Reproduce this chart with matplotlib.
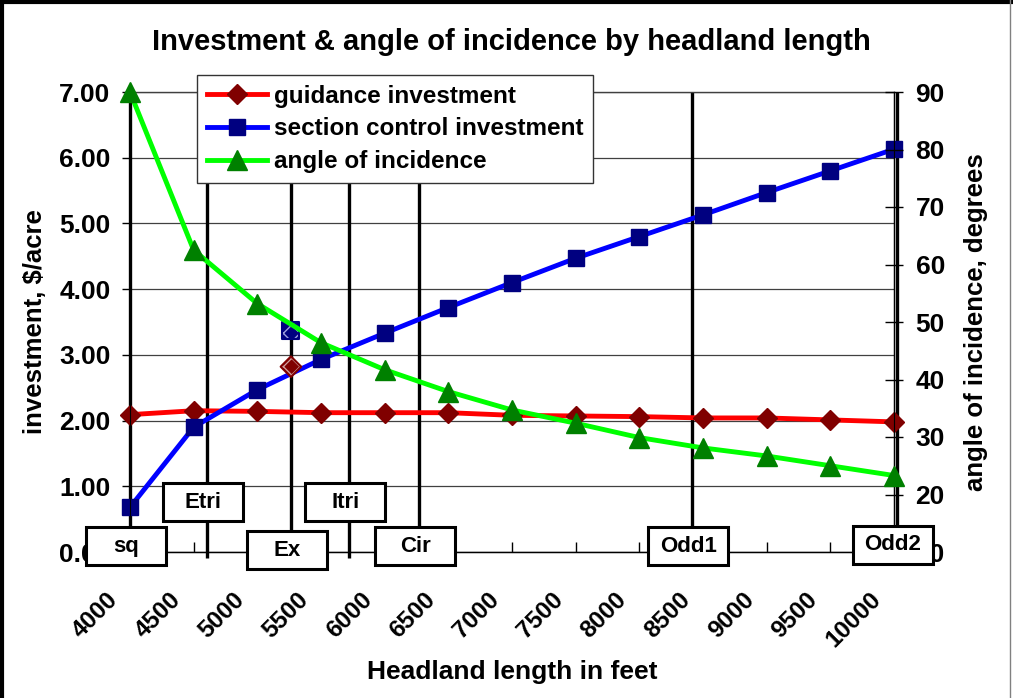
import matplotlib.pyplot as plt
import matplotlib.transforms as mtransforms
from matplotlib.lines import Line2D
from matplotlib.patches import Rectangle

plt.rcParams['font.family'] = ['Liberation Sans', 'DejaVu Sans']
plt.rcParams['font.weight'] = 'bold'
plt.rcParams['axes.labelweight'] = 'bold'

# datos
headland = [4000, 4500, 5000, 5500, 6000, 6500, 7000, 7500, 8000, 8500, 9000, 9500, 10000]
guidance = [2.09, 2.15, 2.14, 2.12, 2.12, 2.12, 2.08, 2.07, 2.06, 2.04, 2.04, 2.01, 1.98]
section = [0.68, 1.90, 2.47, 2.93, 3.33, 3.72, 4.10, 4.47, 4.80, 5.13, 5.47, 5.80, 6.13]
angle = [90, 62.5, 53.2, 46.4, 41.7, 37.9, 34.7, 32.4, 29.9, 28.1, 26.7, 25.0, 23.3]

# formas de campo (lineas verticales)
shape_names = ['sq', 'Etri', 'Ex', 'Itri', 'Cir', 'Odd1', 'Odd2']
shape_lengths = [4000, 4605, 5264, 5720, 6270, 8413, 10020]
ex_length = 5264
ex_guidance = 2.82
ex_section = 3.37

fig = plt.figure(figsize=(10.13, 6.98), dpi=100)
ax = fig.add_axes([130 / 1013, 1 - 552 / 698, 764 / 1013, 460 / 698])
ax2 = ax.twinx()

# lineas verticales de cada forma
ax.vlines(shape_lengths, -0.09, 7, colors='black', lw=2.4, zorder=2, clip_on=False)

ax.plot(headland, guidance, color='#ff0000', lw=3.5, marker='D', ms=10,
        mfc='#800000', mec='#800000', zorder=4, clip_on=False)
ax.plot(headland, section, color='#0000ff', lw=3.5, marker='s', ms=12,
        mfc='#000080', mec='#000080', zorder=4, clip_on=False)
ax2.plot(headland, angle, color='#00ff00', lw=3.5, marker='^', ms=14,
         mfc='#008000', mec='#008000', zorder=4, clip_on=False)

# puntos especiales (Ex) con relleno de trama
ax.scatter([ex_length], [ex_section], marker='s', s=150, facecolor='#000080',
           edgecolor='#a0a0e0', hatch='xx', lw=0, zorder=5)
ax.scatter([ex_length], [ex_section], marker='s', s=150, facecolor='none',
           edgecolor='#000080', lw=1.5, zorder=6)
ax.scatter([ex_length], [ex_guidance], marker='D', s=110, facecolor='#800000',
           edgecolor='#d0a0a0', hatch='xx', lw=0, zorder=5)
ax.scatter([ex_length], [ex_guidance], marker='D', s=110, facecolor='none',
           edgecolor='#800000', lw=1.5, zorder=6)

ax.set_xlim(4000, 10000)
ax.set_ylim(0, 7)
ax2.set_ylim(10, 90)
ax.set_xticks(headland)
ax.set_xticklabels([str(h) for h in headland], rotation=45, ha='right', va='top')
ax.set_yticks(range(8))
ax.set_yticklabels(['%.2f' % v for v in range(8)])
ax2.set_yticks(range(10, 100, 10))

ax.tick_params(axis='x', direction='in', length=7, width=1, pad=26, labelsize=17.5)
ax.tick_params(axis='y', direction='out', length=6, width=1, pad=8, labelsize=19)
ax2.tick_params(axis='y', direction='inout', length=13, width=1, pad=9, labelsize=19)

offset = mtransforms.ScaledTranslation(-8 / 100, 0, fig.dpi_scale_trans)
for lbl in ax.get_xticklabels():
    lbl.set_transform(lbl.get_transform() + offset)

ax.yaxis.grid(True, color='#404040', lw=0.9)
ax.set_axisbelow(True)
for s in ax.spines.values():
    s.set_linewidth(1)
ax.spines['top'].set_color('#404040')
ax2.spines['top'].set_visible(False)

ax.set_ylabel('investment, $/acre', fontsize=18.5, labelpad=9)
ax2.set_ylabel('angle of incidence, degrees', fontsize=18.5, labelpad=14)
ax.set_xlabel('Headland length in feet', fontsize=19)
ax.xaxis.set_label_coords(0.5, -0.235)

# cajas con el nombre de cada forma
box_y = {'sq': 0.09, 'Etri': 0.76, 'Ex': 0.03, 'Itri': 0.76, 'Cir': 0.09, 'Odd1': 0.09, 'Odd2': 0.11}
bw = 80 * 6000 / 764
bh = 38 * 7 / 460
for name, x in zip(shape_names, shape_lengths):
    yc = box_y[name]
    ax2.add_patch(Rectangle((x - bw / 2 - 30, yc - bh / 2), bw, bh, transform=ax.transData,
                            facecolor='white', edgecolor='black', lw=2.2, zorder=10, clip_on=False))
    ax2.text(x - 30, yc, name, transform=ax.transData, ha='center', va='center',
             fontsize=16, zorder=11)

handles = [
    Line2D([], [], color='#ff0000', lw=3.5, marker='D', ms=10, mfc='#800000', mec='#800000'),
    Line2D([], [], color='#0000ff', lw=3.5, marker='s', ms=12, mfc='#000080', mec='#000080'),
    Line2D([], [], color='#00ff00', lw=3.5, marker='^', ms=14, mfc='#008000', mec='#008000'),
]
labels = ['guidance investment', 'section control investment', 'angle of incidence']
leg = ax2.legend(handles, labels, loc='upper left', bbox_to_anchor=(197 / 1013, 1 - 75 / 698),
                 bbox_transform=fig.transFigure, fontsize=17.5, frameon=True, fancybox=False,
                 framealpha=1, edgecolor='#333333', borderpad=0.4, handlelength=2.5,
                 handletextpad=0.25, labelspacing=0.4, borderaxespad=0)
leg.get_frame().set_linewidth(1)
leg.set_zorder(12)

fig.text(511 / 1013, 1 - 42 / 698, 'Investment & angle of incidence by headland length',
         ha='center', va='center', fontsize=21)

# borde del grafico
fig.add_artist(Line2D([2 / 1013, 2 / 1013], [0, 1], color='black', lw=3, transform=fig.transFigure))
fig.add_artist(Line2D([0, 1], [1 - 2 / 698, 1 - 2 / 698], color='black', lw=3, transform=fig.transFigure))
fig.add_artist(Line2D([1010 / 1013, 1010 / 1013], [0, 1], color='#808080', lw=1, transform=fig.transFigure))

fig.savefig('out.png', dpi=100)
